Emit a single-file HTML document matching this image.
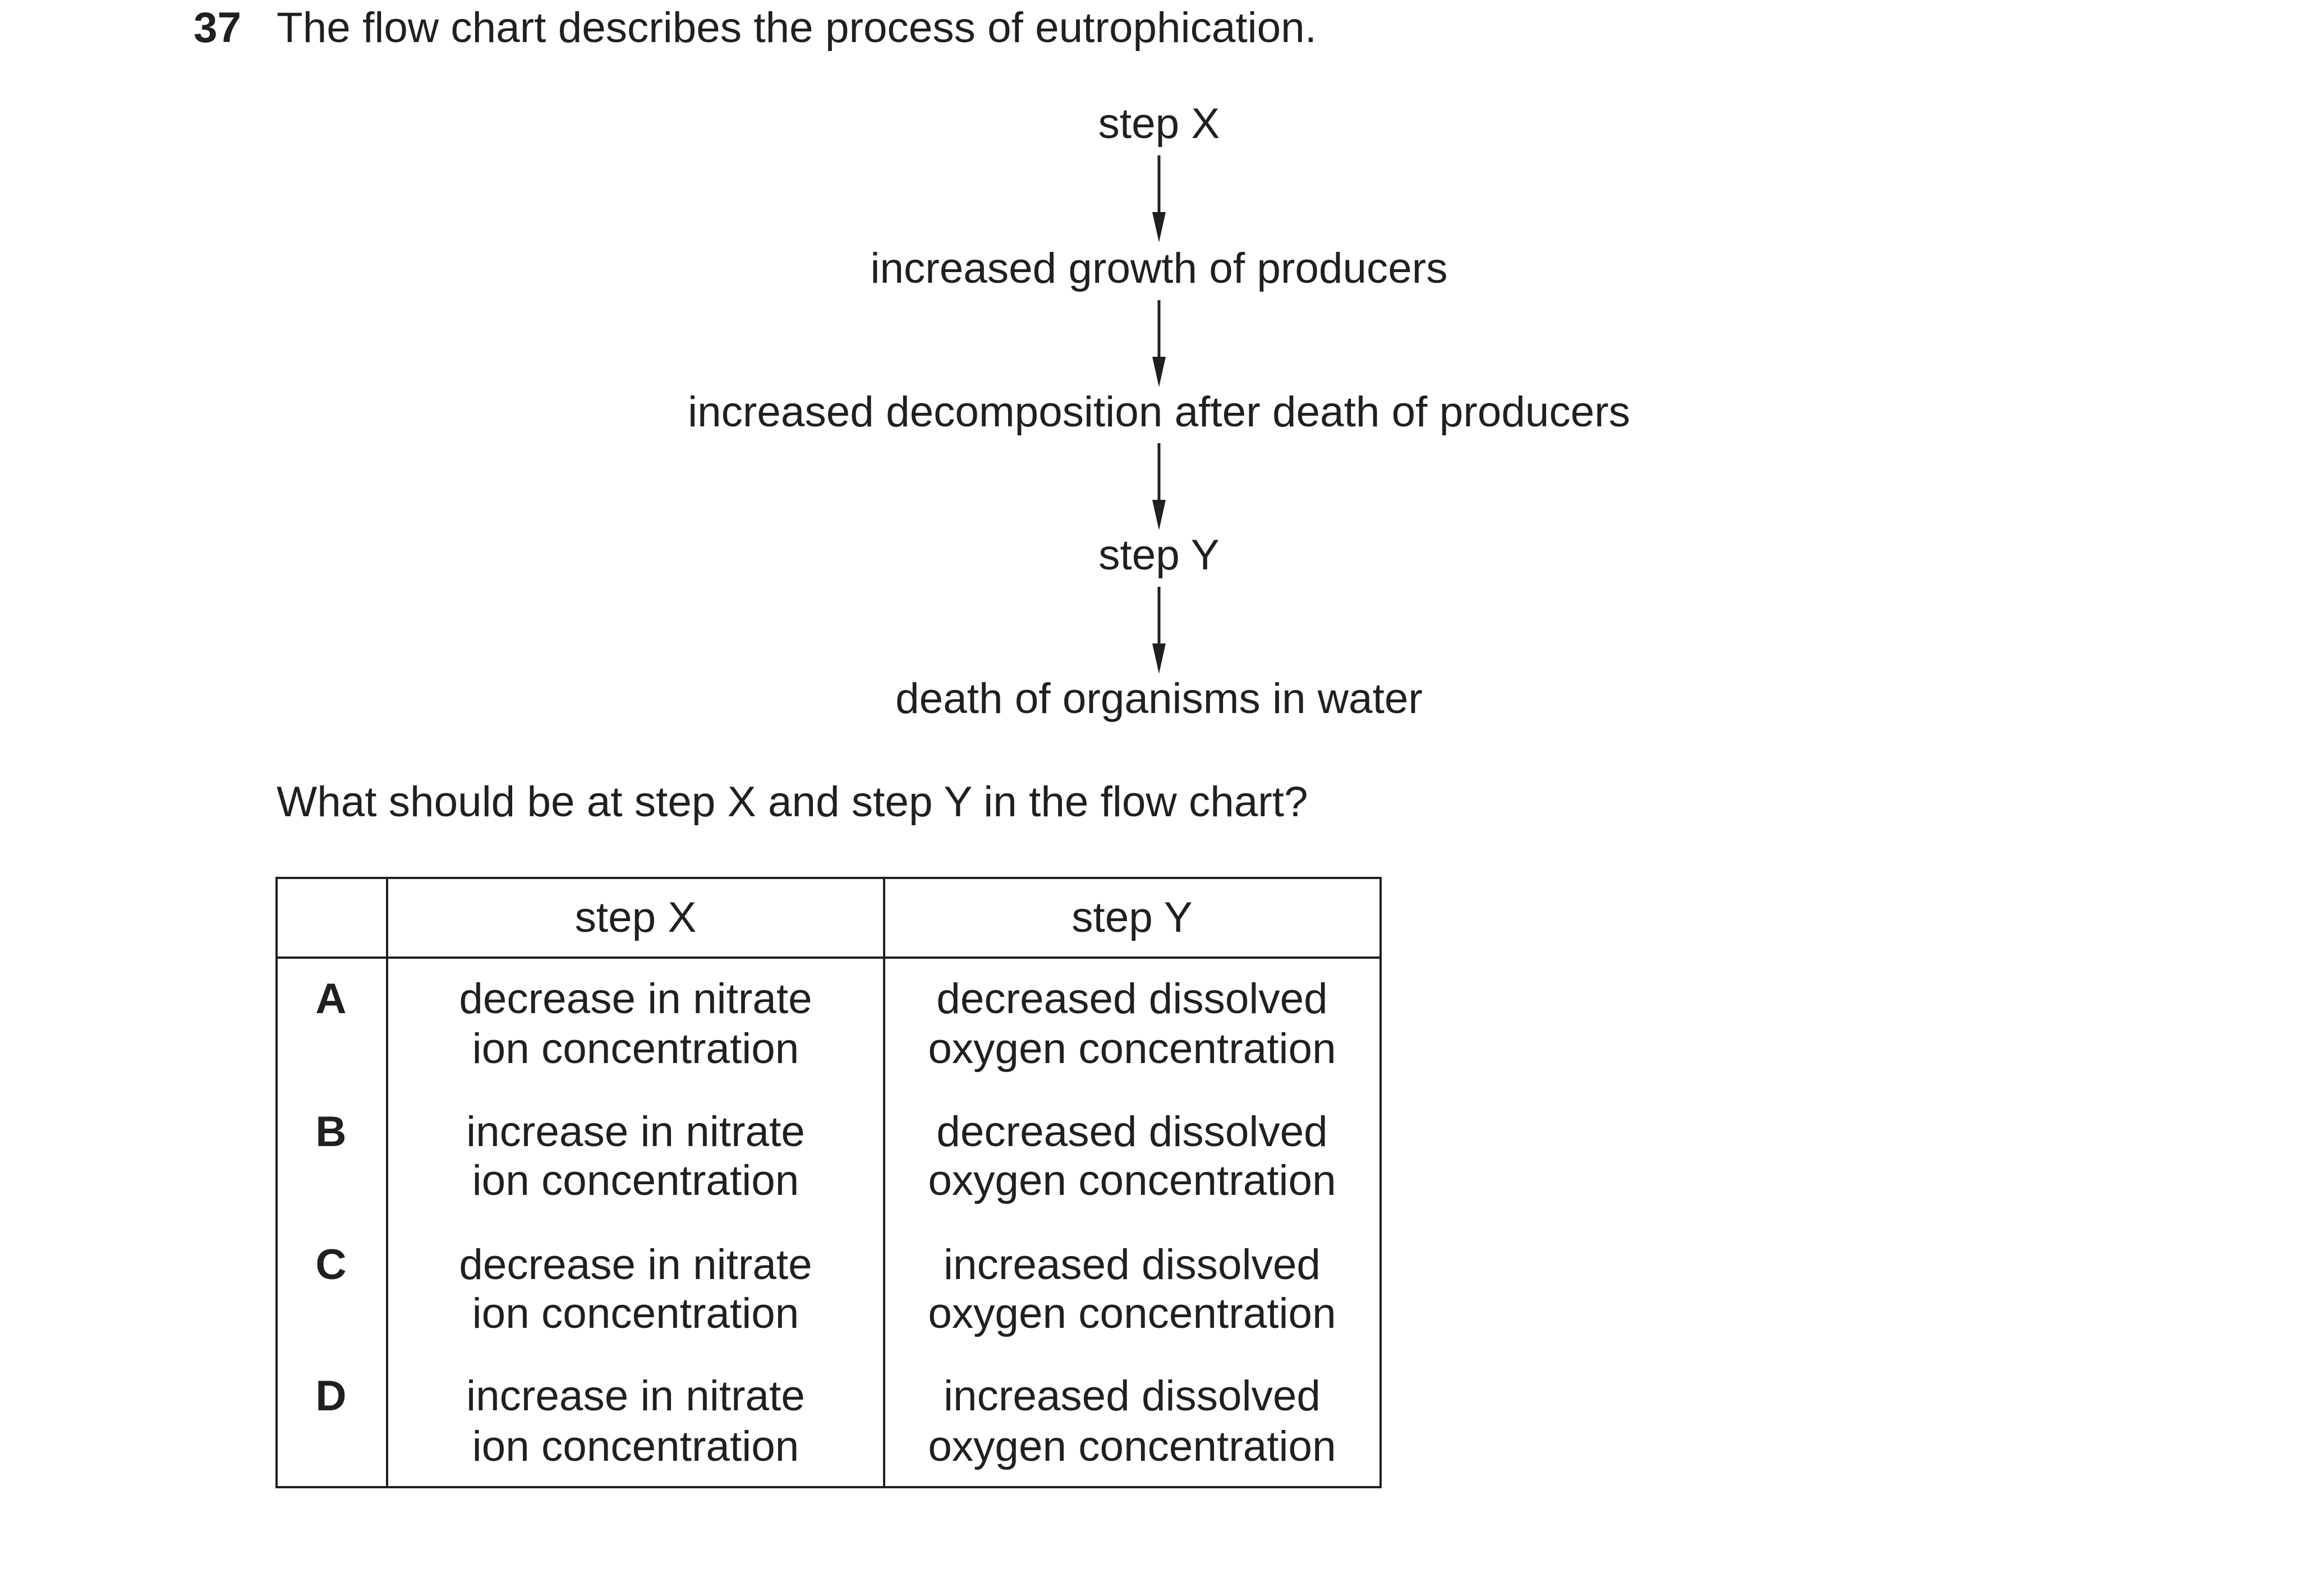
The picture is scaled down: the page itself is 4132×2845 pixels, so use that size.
<!DOCTYPE html>
<html><head><meta charset="utf-8"><style>
html,body{margin:0;padding:0;background:#fff;}
body{width:4132px;height:2845px;position:relative;overflow:hidden;font-family:"Liberation Sans",Arial,sans-serif;color:#231f20;font-size:76.5px;}
.t{position:absolute;white-space:nowrap;line-height:90px;height:90px;}
.c{transform:translateX(-50%);}
.b{font-weight:bold;}
svg{position:absolute;left:0;top:0;}
</style></head><body>
<div class="t b" style="left:345px;top:5px;">37</div>
<div class="t" style="left:493px;top:5px;">The flow chart describes the process of eutrophication.</div>

<div class="t c" style="left:2066px;top:176px;">step X</div>
<div class="t c" style="left:2066px;top:434px;">increased growth of producers</div>
<div class="t c" style="left:2066px;top:690px;">increased decomposition after death of producers</div>
<div class="t c" style="left:2066px;top:945px;">step Y</div>
<div class="t c" style="left:2066px;top:1201px;">death of organisms in water</div>

<div class="t" style="left:493px;top:1385px;">What should be at step X and step Y in the flow chart?</div>

<svg width="4132" height="2845">
<g stroke="#231f20" stroke-width="5" fill="none">
<line x1="2066" y1="277" x2="2066" y2="400"/>
<line x1="2066" y1="535" x2="2066" y2="658"/>
<line x1="2066" y1="790" x2="2066" y2="913"/>
<line x1="2066" y1="1046" x2="2066" y2="1169"/>
</g>
<g fill="#231f20">
<polygon points="2054,378 2078,378 2066,432"/>
<polygon points="2054,636 2078,636 2066,690"/>
<polygon points="2054,891 2078,891 2066,945"/>
<polygon points="2054,1147 2078,1147 2066,1201"/>
</g>
<g stroke="#231f20" stroke-width="4" fill="none">
<rect x="493" y="1565" width="1968" height="1086"/>
<line x1="690" y1="1565" x2="690" y2="2651"/>
<line x1="1576" y1="1565" x2="1576" y2="2651"/>
<line x1="493" y1="1707" x2="2461" y2="1707"/>
</g>
</svg>

<div class="t c" style="left:1133px;top:1591px;">step X</div>
<div class="t c" style="left:2018px;top:1591px;">step Y</div>

<div class="t c b" style="left:590px;top:1736px;">A</div>
<div class="t c" style="left:1133px;top:1736px;">decrease in nitrate</div>
<div class="t c" style="left:1133px;top:1825px;">ion concentration</div>
<div class="t c" style="left:2018px;top:1736px;">decreased dissolved</div>
<div class="t c" style="left:2018px;top:1825px;">oxygen concentration</div>

<div class="t c b" style="left:590px;top:1973px;">B</div>
<div class="t c" style="left:1133px;top:1973px;">increase in nitrate</div>
<div class="t c" style="left:1133px;top:2060px;">ion concentration</div>
<div class="t c" style="left:2018px;top:1973px;">decreased dissolved</div>
<div class="t c" style="left:2018px;top:2060px;">oxygen concentration</div>

<div class="t c b" style="left:590px;top:2210px;">C</div>
<div class="t c" style="left:1133px;top:2210px;">decrease in nitrate</div>
<div class="t c" style="left:1133px;top:2297px;">ion concentration</div>
<div class="t c" style="left:2018px;top:2210px;">increased dissolved</div>
<div class="t c" style="left:2018px;top:2297px;">oxygen concentration</div>

<div class="t c b" style="left:590px;top:2444px;">D</div>
<div class="t c" style="left:1133px;top:2444px;">increase in nitrate</div>
<div class="t c" style="left:1133px;top:2534px;">ion concentration</div>
<div class="t c" style="left:2018px;top:2444px;">increased dissolved</div>
<div class="t c" style="left:2018px;top:2534px;">oxygen concentration</div>
</body></html>
